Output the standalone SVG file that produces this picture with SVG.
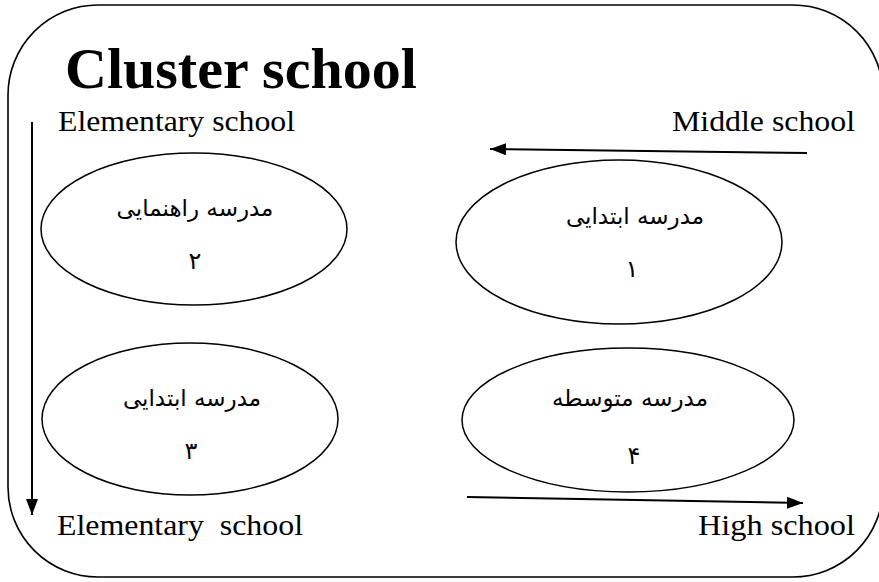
<svg xmlns="http://www.w3.org/2000/svg" width="879" height="582" viewBox="0 0 879 582">
<defs>
<style>
.frame{fill:none;stroke:#000;stroke-width:1.6}
.node{fill:#fff;stroke:#000;stroke-width:1.5}
.en{font-family:"Liberation Serif","Times New Roman",serif;font-size:30px;fill:#000}
.title{font-family:"Liberation Serif","Times New Roman",serif;font-size:58px;font-weight:bold;fill:#000}
.fa{font-family:"DejaVu Sans","Noto Sans",sans-serif;font-size:23px;fill:#000;text-anchor:middle}
.num{font-family:"DejaVu Sans","Noto Sans",sans-serif;font-size:24px;fill:#000;text-anchor:middle}
.conn{fill:none;stroke:#000;stroke-width:2}
</style>
<marker id="ah" viewBox="0 0 16 12" refX="16" refY="6" markerWidth="16" markerHeight="12" markerUnits="userSpaceOnUse" orient="auto">
<path d="M0,0 L16,6 L0,12 z" fill="#000"/>
</marker>
</defs>
<rect width="879" height="582" fill="#fff"/>
<g id="cluster">
<rect class="frame" x="8" y="5" width="875" height="572" rx="90" ry="90"/>
<text class="title" x="65" y="88">Cluster school</text>
</g>
<g id="labels">
<text class="en" x="58" y="131" textLength="237" lengthAdjust="spacingAndGlyphs">Elementary school</text>
<text class="en" x="672" y="131" textLength="183" lengthAdjust="spacingAndGlyphs">Middle school</text>
<text class="en" x="57" y="535" textLength="246" lengthAdjust="spacingAndGlyphs" xml:space="preserve">Elementary  school</text>
<text class="en" x="698" y="535" textLength="157" lengthAdjust="spacingAndGlyphs">High school</text>
</g>
<g id="node1">
<ellipse class="node" cx="619" cy="242" rx="163" ry="82"/>
<text class="fa" x="635" y="224" direction="rtl">مدرسه ابتدایی</text>
<text class="num" x="632" y="277">۱</text>
</g>
<g id="node2">
<ellipse class="node" cx="194" cy="229" rx="153" ry="76"/>
<text class="fa" x="195" y="216" direction="rtl">مدرسه راهنمایی</text>
<text class="num" x="195" y="269">۲</text>
</g>
<g id="node3">
<ellipse class="node" cx="190" cy="419" rx="148" ry="76"/>
<text class="fa" x="192" y="406" direction="rtl">مدرسه ابتدایی</text>
<text class="num" x="191" y="459">۳</text>
</g>
<g id="node4">
<ellipse class="node" cx="628" cy="420" rx="166" ry="72"/>
<text class="fa" x="630" y="406" direction="rtl">مدرسه متوسطه</text>
<text class="num" x="634" y="464">۴</text>
</g>
<g id="connectors">
<line class="conn" x1="32" y1="122" x2="32" y2="515" marker-end="url(#ah)"/>
<line class="conn" x1="807" y1="153" x2="490" y2="149" marker-end="url(#ah)"/>
<line class="conn" x1="467" y1="497" x2="803" y2="503" marker-end="url(#ah)"/>
</g>
</svg>
